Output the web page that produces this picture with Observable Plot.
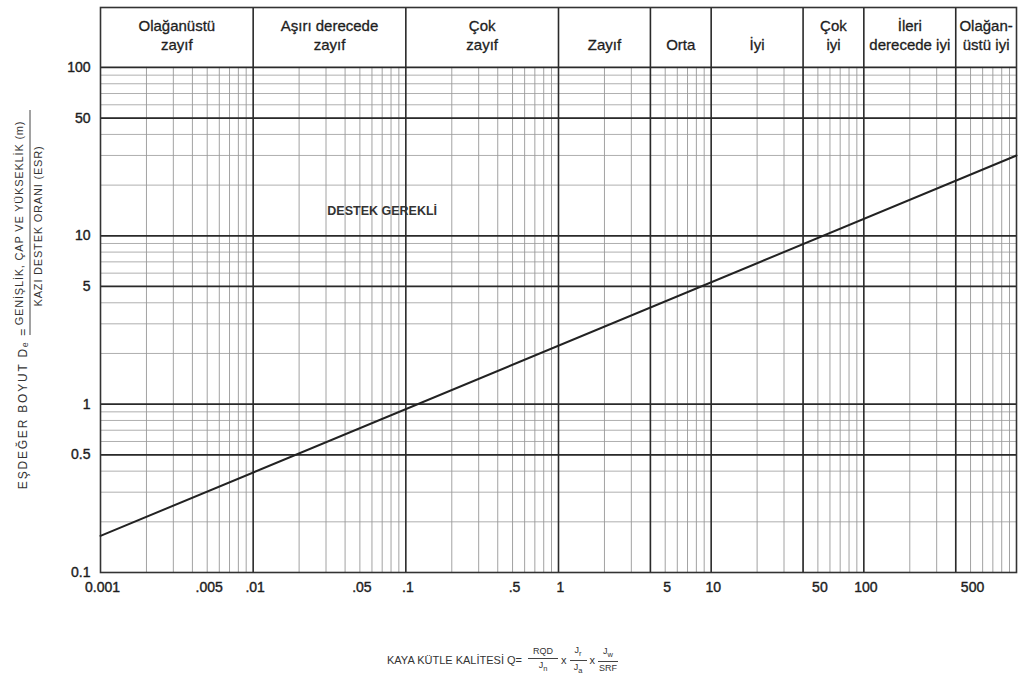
<!DOCTYPE html>
<html><head><meta charset="utf-8">
<script src="https://cdn.jsdelivr.net/npm/d3@7"></script>
<script src="https://cdn.jsdelivr.net/npm/@observablehq/plot@0.6"></script>
<style>
body{margin:0;background:#fff;font-family:"Liberation Sans",Arial,sans-serif;}
#caption{height:96px;display:flex;align-items:center;justify-content:flex-start;padding-left:387px;
  font-family:"Liberation Sans Narrow","Liberation Sans",Arial,sans-serif;font-size:11px;color:#333;}
.frac{display:inline-flex;flex-direction:column;align-items:center;margin:0 3px;font-size:9px;line-height:1.05}
.frac .num{border-bottom:1px solid #444;padding:0 5px 2px}
.frac .den{padding-top:2px}
</style></head><body>
<div id="chart"></div>
<div id="caption"></div>
<script>
// ---- data ----
const xTickValues = [0.001, 0.005, 0.01, 0.05, 0.1, 0.5, 1, 5, 10, 50, 100, 500];
const xTickLabels = ["0.001", ".005", ".01", ".05", ".1", ".5", "1", "5", "10", "50", "100", "500"];
const yTickValues = [0.1, 0.5, 1, 5, 10, 50, 100];
const yTickLabels = ["0.1", "0.5", "1", "5", "10", "50", "100"];
const majorY = [0.5, 1, 5, 10, 50, 100];
const classBounds = [0.001, 0.01, 0.1, 1, 4, 10, 40, 100, 400, 1000];
const classLabels = ["Olağanüstü\nzayıf", "Aşırı derecede\nzayıf", "Çok\nzayıf", "Zayıf", "Orta", "İyi", "Çok\niyi", "İleri\nderecede iyi", "Olağan-\nüstü iyi"];
const lineQ = [0.001, 1000];
const lineDe = [0.165, 30];
const annotQ = [0.07];
const annotDe = [14];
const annotText = ["DESTEK GEREKLİ"];
const headerTop = 227;
const yTitleMain = "EŞDEĞER BOYUT Dₑ =";
const yTitleNum = "GENİŞLİK, ÇAP VE YÜKSEKLİK (m)";
const yTitleDen = "KAZI DESTEK ORANI (ESR)";

// ---- derived ----
const xTicks = xTickValues.map((v, i) => ({v, label: xTickLabels[i]}));
const yTicks = yTickValues.map((v, i) => ({v, label: yTickLabels[i]}));
const minorX = [];
for (let e = -3; e < 3; e++) for (let k = 2; k <= 9; k++) minorX.push(k * Math.pow(10, e));
const minorY = [];
for (let e = -1; e < 2; e++) for (let k = 2; k <= 9; k++) minorY.push(k * Math.pow(10, e));
const classes = classLabels.map((label, i) => ({lo: classBounds[i], hi: classBounds[i + 1], label}));
const lineData = lineQ.map((q, i) => ({Q: q, De: lineDe[i]}));
const annot = annotQ.map((q, i) => ({Q: q, De: annotDe[i], label: annotText[i]}));

const ink = "#1e1e1e";
const chart = Plot.plot({
  width: 1025,
  height: 612,
  marginLeft: 100,
  marginRight: 9,
  marginTop: 7,
  marginBottom: 40,
  style: {fontFamily: "'Liberation Sans', Arial, sans-serif", background: "#fff", color: ink},
  x: {type: "log", domain: [0.001, 1000], axis: null},
  y: {type: "log", domain: [0.1, headerTop], axis: null},
  marks: [
    Plot.ruleX(minorX, {y1: 0.1, y2: 100, stroke: "#8a8a8a", strokeWidth: 0.8}),
    Plot.ruleY(minorY, {stroke: "#9a9a9a", strokeWidth: 0.8}),
    Plot.ruleY(majorY, {stroke: "#2a2a2a", strokeWidth: 1.8}),
    Plot.ruleX(classBounds.slice(1, -1), {y1: 0.1, y2: headerTop, stroke: "#2a2a2a", strokeWidth: 1.6}),
    Plot.frame({stroke: "#333", strokeWidth: 1.6}),
    Plot.line(lineData, {x: "Q", y: "De", stroke: "#222", strokeWidth: 2}),
    Plot.text(classes, {x: d => Math.sqrt(d.lo * d.hi), text: "label", frameAnchor: "top", dy: 42, lineAnchor: "bottom", fontSize: 15, lineHeight: 1.25, fill: ink, stroke: ink, strokeWidth: 0.3}),
    Plot.text(annot, {x: "Q", y: "De", text: "label", fontSize: 12.5, fontWeight: "bold", fill: "#333"}),
    Plot.text(xTicks, {x: "v", text: "label", frameAnchor: "bottom", dy: 19, dx: 2, fontSize: 14, fill: ink, stroke: ink, strokeWidth: 0.4}),
    Plot.text(yTicks, {y: "v", text: "label", frameAnchor: "left", dx: -10, textAnchor: "end", fontSize: 14, fill: ink, stroke: ink, strokeWidth: 0.4}),
    Plot.text([yTitleMain], {frameAnchor: "left", textAnchor: "middle", dx: -77, dy: 118, rotate: -90, fontSize: 12, fill: "#333"}),
    Plot.text([yTitleNum], {frameAnchor: "left", textAnchor: "middle", dx: -81, dy: -67, rotate: -90, fontSize: 11, fill: "#333"}),
    Plot.text([yTitleDen], {frameAnchor: "left", textAnchor: "middle", dx: -62, dy: -64, rotate: -90, fontSize: 11, fill: "#333"})
  ]
});
document.getElementById("chart").appendChild(chart);

const svg = d3.select(chart);
// letter spacing of the y-axis title (typography)
svg.selectAll("text").filter(function () { return this.textContent === yTitleMain; }).style("letter-spacing", "1.8px");
svg.selectAll("text").filter(function () { return this.textContent === yTitleNum || this.textContent === yTitleDen; }).style("letter-spacing", "0.8px");
// fraction bar of the y-axis title
svg.append("line").attr("x1", 30).attr("x2", 30).attr("y1", 110).attr("y2", 335)
  .attr("stroke", "#444").attr("stroke-width", 1);

// caption
document.getElementById("caption").innerHTML =
  'KAYA KÜTLE KALİTESİ Q=&nbsp;' +
  '<span class="frac"><span class="num">RQD</span><span class="den">J<sub>n</sub></span></span>x' +
  '<span class="frac"><span class="num">J<sub>r</sub></span><span class="den">J<sub>a</sub></span></span>x' +
  '<span class="frac"><span class="num">J<sub>w</sub></span><span class="den">SRF</span></span>';
</script>
</body></html>
